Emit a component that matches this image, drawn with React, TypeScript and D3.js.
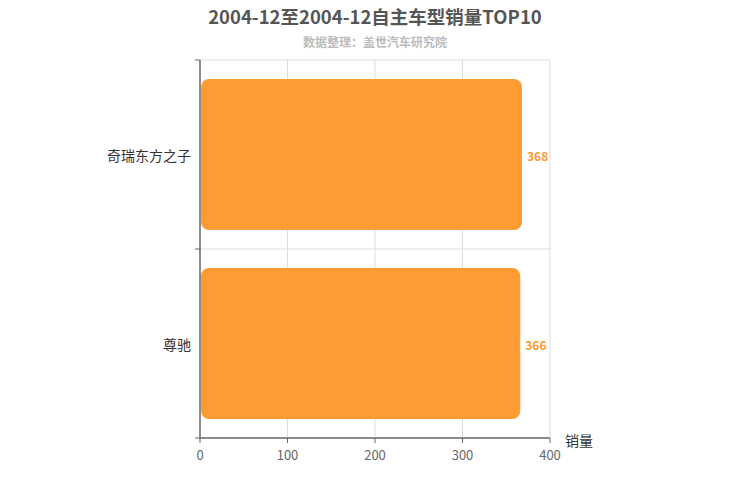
import React from "react";
import * as d3 from "d3";

const categories = ["奇瑞东方之子", "尊驰"];
const values = [368, 366];
const xTicks = [0, 100, 200, 300, 400];
const title = "2004-12至2004-12自主车型销量TOP10";
const subtitle = "数据整理：盖世汽车研究院";
const axisName = "销量";

export default function App() {
  const W = 750, H = 500;
  const left = 200, right = 550, top = 60, bottom = 438;
  const x = d3.scaleLinear().domain([0, 400]).range([left, right]);
  const y = d3.scaleBand().domain(categories).range([top, bottom]).paddingInner(0.2).paddingOuter(0.1);
  const yb = d3.scaleBand().domain(categories).range([top, bottom]);
  const font = "'Microsoft YaHei', 'Noto Sans CJK SC', sans-serif";
  return (
    <svg width={W} height={H} style={{ position: "absolute", left: 0, top: 0, fontFamily: font }}>
      <rect width={W} height={H} fill="#fff" />
      <text x={375} y={24} textAnchor="middle" fontSize={18.5} fontWeight="bold" fill="#555">{title}</text>
      <text x={375} y={47} textAnchor="middle" fontSize={12} fontWeight="bold" fill="#bbb">{subtitle}</text>
      {/* grid */}
      {xTicks.slice(1).map(t => (
        <line key={t} x1={x(t)} x2={x(t)} y1={top} y2={bottom} stroke="#ddd" />
      ))}
      {categories.map(c => (
        <line key={c} x1={left} x2={right} y1={yb(c)!} y2={yb(c)!} stroke="#ddd" />
      ))}
      {/* bars */}
      {categories.map((c, i) => {
        const bx = x(0) + 1, bw = x(values[i]) - x(0) - 1, by = y(c)!, bh = y.bandwidth();
        return (
          <g key={c}>
            <rect x={bx} y={by} width={bw} height={bh} rx={8} ry={8} fill="#ff9b33" />
            <text x={x(values[i]) + 5} y={by + bh / 2 + 6} fontSize={12} fontWeight="bold" fill="#f93">{values[i]}</text>
          </g>
        );
      })}
      {/* y axis */}
      <line x1={left} x2={left} y1={top} y2={bottom} stroke="#666" strokeWidth={1.5} />
      {categories.map(c => (
        <line key={c} x1={left - 5} x2={left} y1={yb(c)!} y2={yb(c)!} stroke="#666" />
      ))}
      <line x1={left - 5} x2={left} y1={bottom} y2={bottom} stroke="#666" />
      {categories.map(c => (
        <text key={c} x={left - 9} y={yb(c)! + yb.bandwidth() / 2 + 6} textAnchor="end" fontSize={14} fill="#333">{c}</text>
      ))}
      {/* x axis */}
      <line x1={left} x2={right} y1={bottom} y2={bottom} stroke="#666" strokeWidth={1.5} />
      {xTicks.map(t => (
        <g key={t}>
          <line x1={x(t)} x2={x(t)} y1={bottom} y2={bottom + 5} stroke="#666" />
          <text x={x(t)} y={bottom + 22} textAnchor="middle" fontSize={13} fill="#666">{t}</text>
        </g>
      ))}
      <text x={565} y={446} fontSize={14} fill="#333">{axisName}</text>
    </svg>
  );
}
